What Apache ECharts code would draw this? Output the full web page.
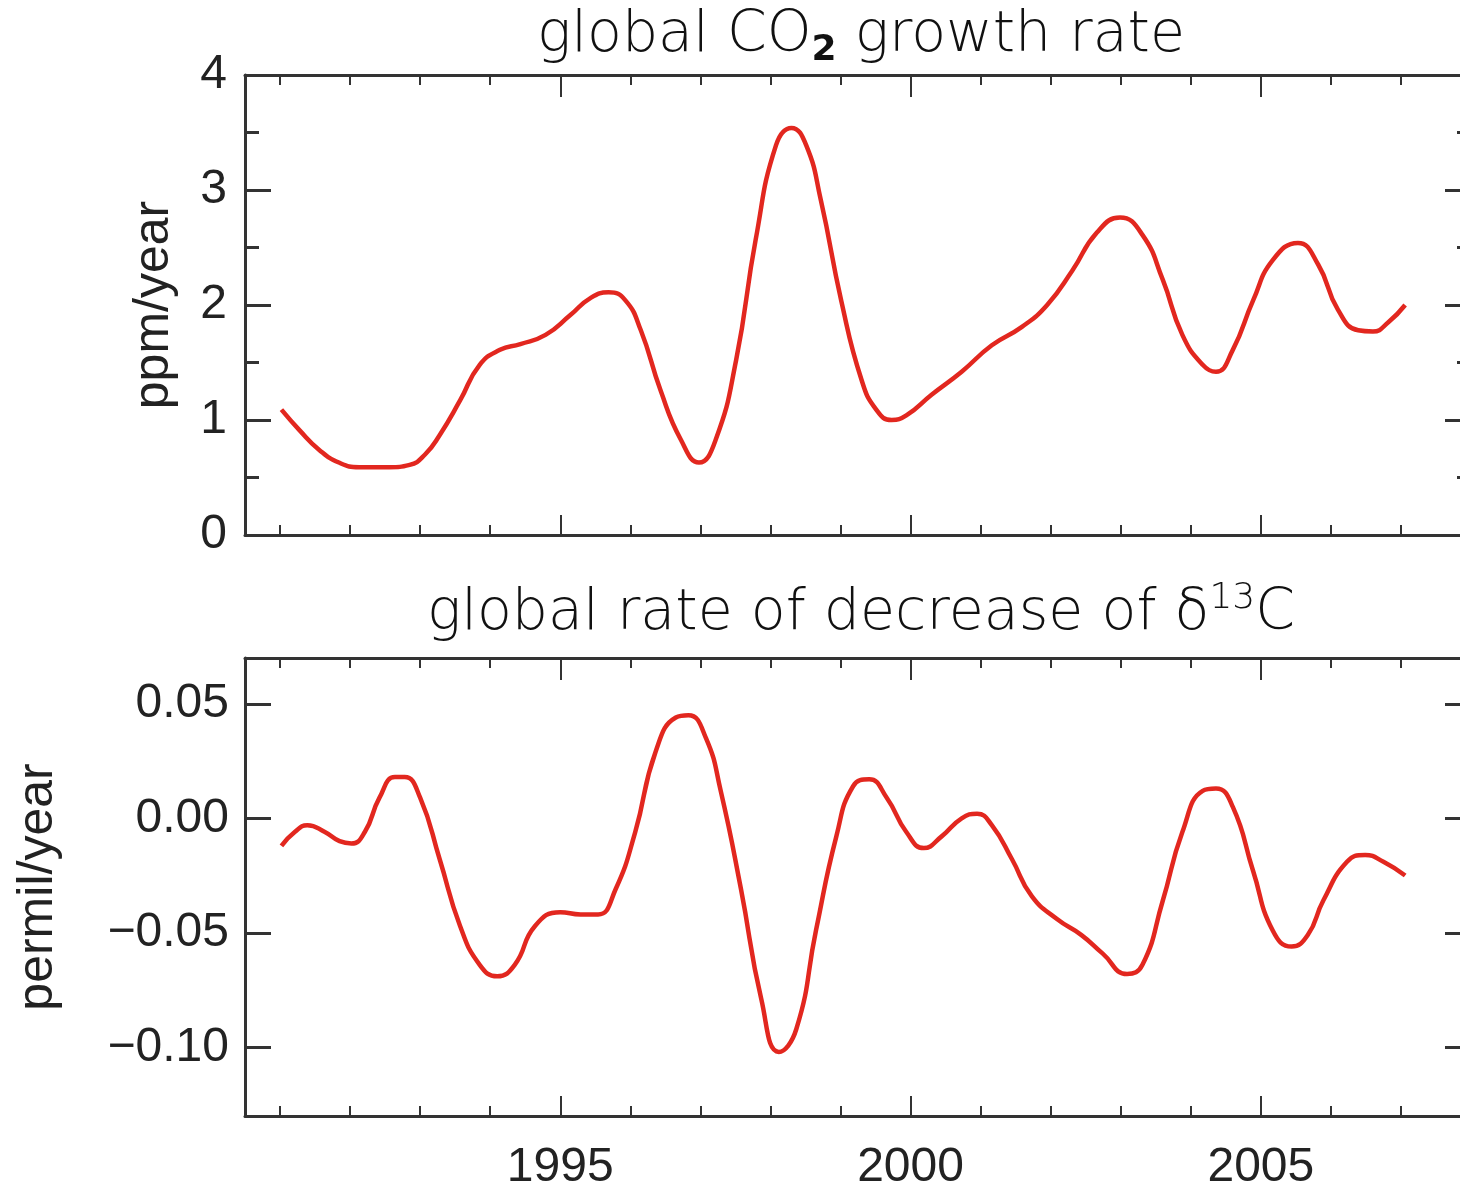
<!DOCTYPE html>
<html>
<head>
<meta charset="utf-8">
<script src="https://cdn.jsdelivr.net/npm/echarts@6/dist/echarts.min.js"></script>
<style>
html, body { margin: 0; padding: 0; background: #fff; overflow: hidden; }
#main { width: 1480px; height: 1192px; }
</style>
</head>
<body>
<div id="main"></div>
<script>
// top panel: CO2 growth rate (ppm/year)
var co2Years = [1991.02, 1991.28, 1991.56, 1991.84, 1992.13, 1992.56, 1992.85, 1993.07, 1993.28, 1993.57, 1993.85,
    1994.14, 1994.43, 1994.79, 1995.14, 1995.43, 1995.69, 1995.93, 1996.15, 1996.43, 1996.72, 1996.98, 1997.22,
    1997.51, 1997.79, 1998.08, 1998.30, 1998.51, 1998.72, 1999.01, 1999.30, 1999.51, 1999.73, 1999.94, 2000.30,
    2000.73, 2001.16, 2001.59, 2001.95, 2002.31, 2002.66, 2002.99, 2003.31, 2003.60, 2003.88, 2004.17, 2004.36,
    2004.60, 2004.89, 2005.17, 2005.53, 2005.82, 2006.10, 2006.39, 2006.60, 2006.82, 2007.06];
var co2Rate = [1.09, 0.91, 0.74, 0.63, 0.59, 0.59, 0.61, 0.70, 0.87, 1.17, 1.48,
    1.61, 1.66, 1.74, 1.91, 2.06, 2.11, 2.04, 1.78, 1.26, 0.83, 0.63, 0.83,
    1.52, 2.57, 3.39, 3.54, 3.39, 2.91, 2.04, 1.35, 1.09, 1.00, 1.04, 1.22,
    1.42, 1.65, 1.81, 2.00, 2.30, 2.63, 2.76, 2.61, 2.22, 1.74, 1.48, 1.42,
    1.61, 2.04, 2.39, 2.54, 2.35, 1.96, 1.78, 1.77, 1.85, 2.00];

// bottom panel: rate of decrease of d13C (permil/year)
var d13Years = [1991.02, 1991.21, 1991.39, 1991.64, 1991.85, 1992.02, 1992.21, 1992.42, 1992.64, 1992.78, 1993.00,
    1993.28, 1993.57, 1993.85, 1994.10, 1994.35, 1994.64, 1995.00, 1995.29, 1995.54, 1995.79, 1996.07, 1996.36,
    1996.65, 1996.83, 1997.08, 1997.29, 1997.58, 1997.87, 1998.12, 1998.37, 1998.65, 1998.94, 1999.18, 1999.41,
    1999.66, 1999.94, 2000.19, 2000.44, 2000.73, 2000.95, 2001.16, 2001.45, 2001.73, 2002.09, 2002.44, 2002.74,
    2003.09, 2003.31, 2003.60, 2003.88, 2004.17, 2004.36, 2004.60, 2004.89, 2005.17, 2005.44, 2005.67, 2005.89,
    2006.23, 2006.49, 2006.75, 2007.06];
var d13Rate = [-0.012, -0.006, -0.003, -0.006, -0.010, -0.011, -0.006, 0.009, 0.018, 0.018, 0.009,
    -0.018, -0.047, -0.064, -0.069, -0.064, -0.047, -0.041, -0.042, -0.042, -0.031, -0.006, 0.029,
    0.044, 0.045, 0.035, 0.012, -0.031, -0.079, -0.102, -0.092, -0.049, -0.008, 0.014, 0.017,
    0.009, -0.006, -0.013, -0.008, 0.000, 0.002, -0.003, -0.018, -0.034, -0.044, -0.051, -0.059,
    -0.068, -0.064, -0.036, -0.006, 0.012, 0.013, 0.005, -0.023, -0.049, -0.056, -0.051, -0.036,
    -0.019, -0.016, -0.019, -0.025];

var allYears = [];
for (var y = 1991; y <= 2007; y++) allYears.push(y);
var majorYears = [1995, 2000, 2005];
var d13Ticks = [-0.10, -0.05, 0.00, 0.05];

var myChart = echarts.init(document.getElementById('main'));

var axisColor = '#333';
var tickFont = { fontFamily: 'Liberation Sans', fontSize: 48, color: '#222' };
var titleFont = 'DejaVu Sans';

function zip(xs, ys) {
    return xs.map(function (x, i) { return [x, ys[i]]; });
}

// four x axes per panel: bottom major/minor ticks, top major/minor ticks
function xAxes(gridIndex, withLabels) {
    var base = { type: 'value', gridIndex: gridIndex, min: 1990.5, max: 2008, splitLine: { show: false } };
    return [
        Object.assign({}, base, {
            position: 'bottom',
            axisLine: { show: true, onZero: false, lineStyle: { color: axisColor, width: 3 } },
            axisTick: { show: true, inside: true, length: 20, customValues: majorYears, lineStyle: { color: axisColor, width: 2 } },
            axisLabel: Object.assign({
                show: withLabels, margin: 28, customValues: majorYears,
                formatter: function (v) { return String(v); }
            }, tickFont)
        }),
        Object.assign({}, base, {
            position: 'bottom',
            axisLine: { show: false, onZero: false },
            axisTick: { show: true, inside: true, length: 10, customValues: allYears, lineStyle: { color: axisColor, width: 2 } },
            axisLabel: { show: false }
        }),
        Object.assign({}, base, {
            position: 'top',
            axisLine: { show: true, onZero: false, lineStyle: { color: axisColor, width: 3 } },
            axisTick: { show: true, inside: true, length: 22, customValues: majorYears, lineStyle: { color: axisColor, width: 2 } },
            axisLabel: { show: false }
        }),
        Object.assign({}, base, {
            position: 'top',
            axisLine: { show: false, onZero: false },
            axisTick: { show: true, inside: true, length: 10, customValues: allYears, lineStyle: { color: axisColor, width: 2 } },
            axisLabel: { show: false }
        })
    ];
}

var titleRich = {
    a: { fontFamily: titleFont, fontWeight: 200, fontSize: 57, lineHeight: 66, color: '#111' },
    sub: { fontFamily: titleFont, fontWeight: 'bold', fontSize: 36, lineHeight: 32, verticalAlign: 'bottom', color: '#111' },
    sup: { fontFamily: titleFont, fontWeight: 200, fontSize: 36, lineHeight: 32, verticalAlign: 'top', color: '#111' }
};

var option = {
    animation: false,
    backgroundColor: '#fff',
    title: [
        {
            left: 856, top: -2, textAlign: 'center',
            text: '{a|global CO}{sub|2}{a| growth rate}',
            textStyle: { fontWeight: 'normal', rich: titleRich }
        },
        {
            left: 856, top: 576, textAlign: 'center',
            text: '{a|global rate of decrease of \u03b4}{sup|13}{a|C}',
            textStyle: { fontWeight: 'normal', rich: titleRich }
        }
    ],
    grid: [
        { left: 245, top: 75, right: 9, height: 460 },
        { left: 245, top: 658, right: 9, height: 459 }
    ],
    xAxis: xAxes(0, false).concat(xAxes(1, true)),
    yAxis: [
        {
            type: 'value', gridIndex: 0, min: 0, max: 4, interval: 1, position: 'left',
            name: 'ppm/year', nameLocation: 'middle', nameGap: 66, nameRotate: 90,
            nameTextStyle: { fontFamily: 'Liberation Sans', fontSize: 50, color: '#222' },
            axisLine: { show: true, onZero: false, lineStyle: { color: axisColor, width: 3 } },
            axisTick: { show: true, inside: true, length: 26, lineStyle: { color: axisColor, width: 3 } },
            minorTick: { show: true, splitNumber: 2, length: 14, lineStyle: { color: axisColor, width: 3 } },
            axisLabel: Object.assign({ margin: 18 }, tickFont),
            splitLine: { show: false }
        },
        {
            type: 'value', gridIndex: 0, min: 0, max: 4, interval: 1, position: 'right',
            axisLine: { show: true, onZero: false, lineStyle: { color: axisColor, width: 3 } },
            axisTick: { show: true, inside: true, length: 26, lineStyle: { color: axisColor, width: 3 } },
            minorTick: { show: true, splitNumber: 2, length: 14, lineStyle: { color: axisColor, width: 3 } },
            axisLabel: { show: false },
            splitLine: { show: false }
        },
        {
            type: 'value', gridIndex: 1, min: -0.13, max: 0.07, position: 'left',
            name: 'permil/year', nameLocation: 'middle', nameGap: 182, nameRotate: 90,
            nameTextStyle: { fontFamily: 'Liberation Sans', fontSize: 50, color: '#222' },
            axisLine: { show: true, onZero: false, lineStyle: { color: axisColor, width: 3 } },
            axisTick: { show: true, inside: true, length: 26, customValues: d13Ticks, lineStyle: { color: axisColor, width: 3 } },
            axisLabel: Object.assign({
                margin: 16, customValues: d13Ticks,
                formatter: function (v) { return (v < 0 ? '\u2212' : '') + Math.abs(v).toFixed(2); }
            }, tickFont),
            splitLine: { show: false }
        },
        {
            type: 'value', gridIndex: 1, min: -0.13, max: 0.07, position: 'right',
            axisLine: { show: true, onZero: false, lineStyle: { color: axisColor, width: 3 } },
            axisTick: { show: true, inside: true, length: 26, customValues: d13Ticks, lineStyle: { color: axisColor, width: 3 } },
            axisLabel: { show: false },
            splitLine: { show: false }
        }
    ],
    series: [
        {
            name: 'CO2', type: 'line', xAxisIndex: 0, yAxisIndex: 0,
            smooth: 0.5, showSymbol: false,
            lineStyle: { color: '#e2271f', width: 4.5 },
            data: zip(co2Years, co2Rate)
        },
        {
            name: 'd13C', type: 'line', xAxisIndex: 4, yAxisIndex: 2,
            smooth: 0.5, showSymbol: false,
            lineStyle: { color: '#e2271f', width: 4.5 },
            data: zip(d13Years, d13Rate)
        }
    ]
};

myChart.setOption(option);
</script>
</body>
</html>
